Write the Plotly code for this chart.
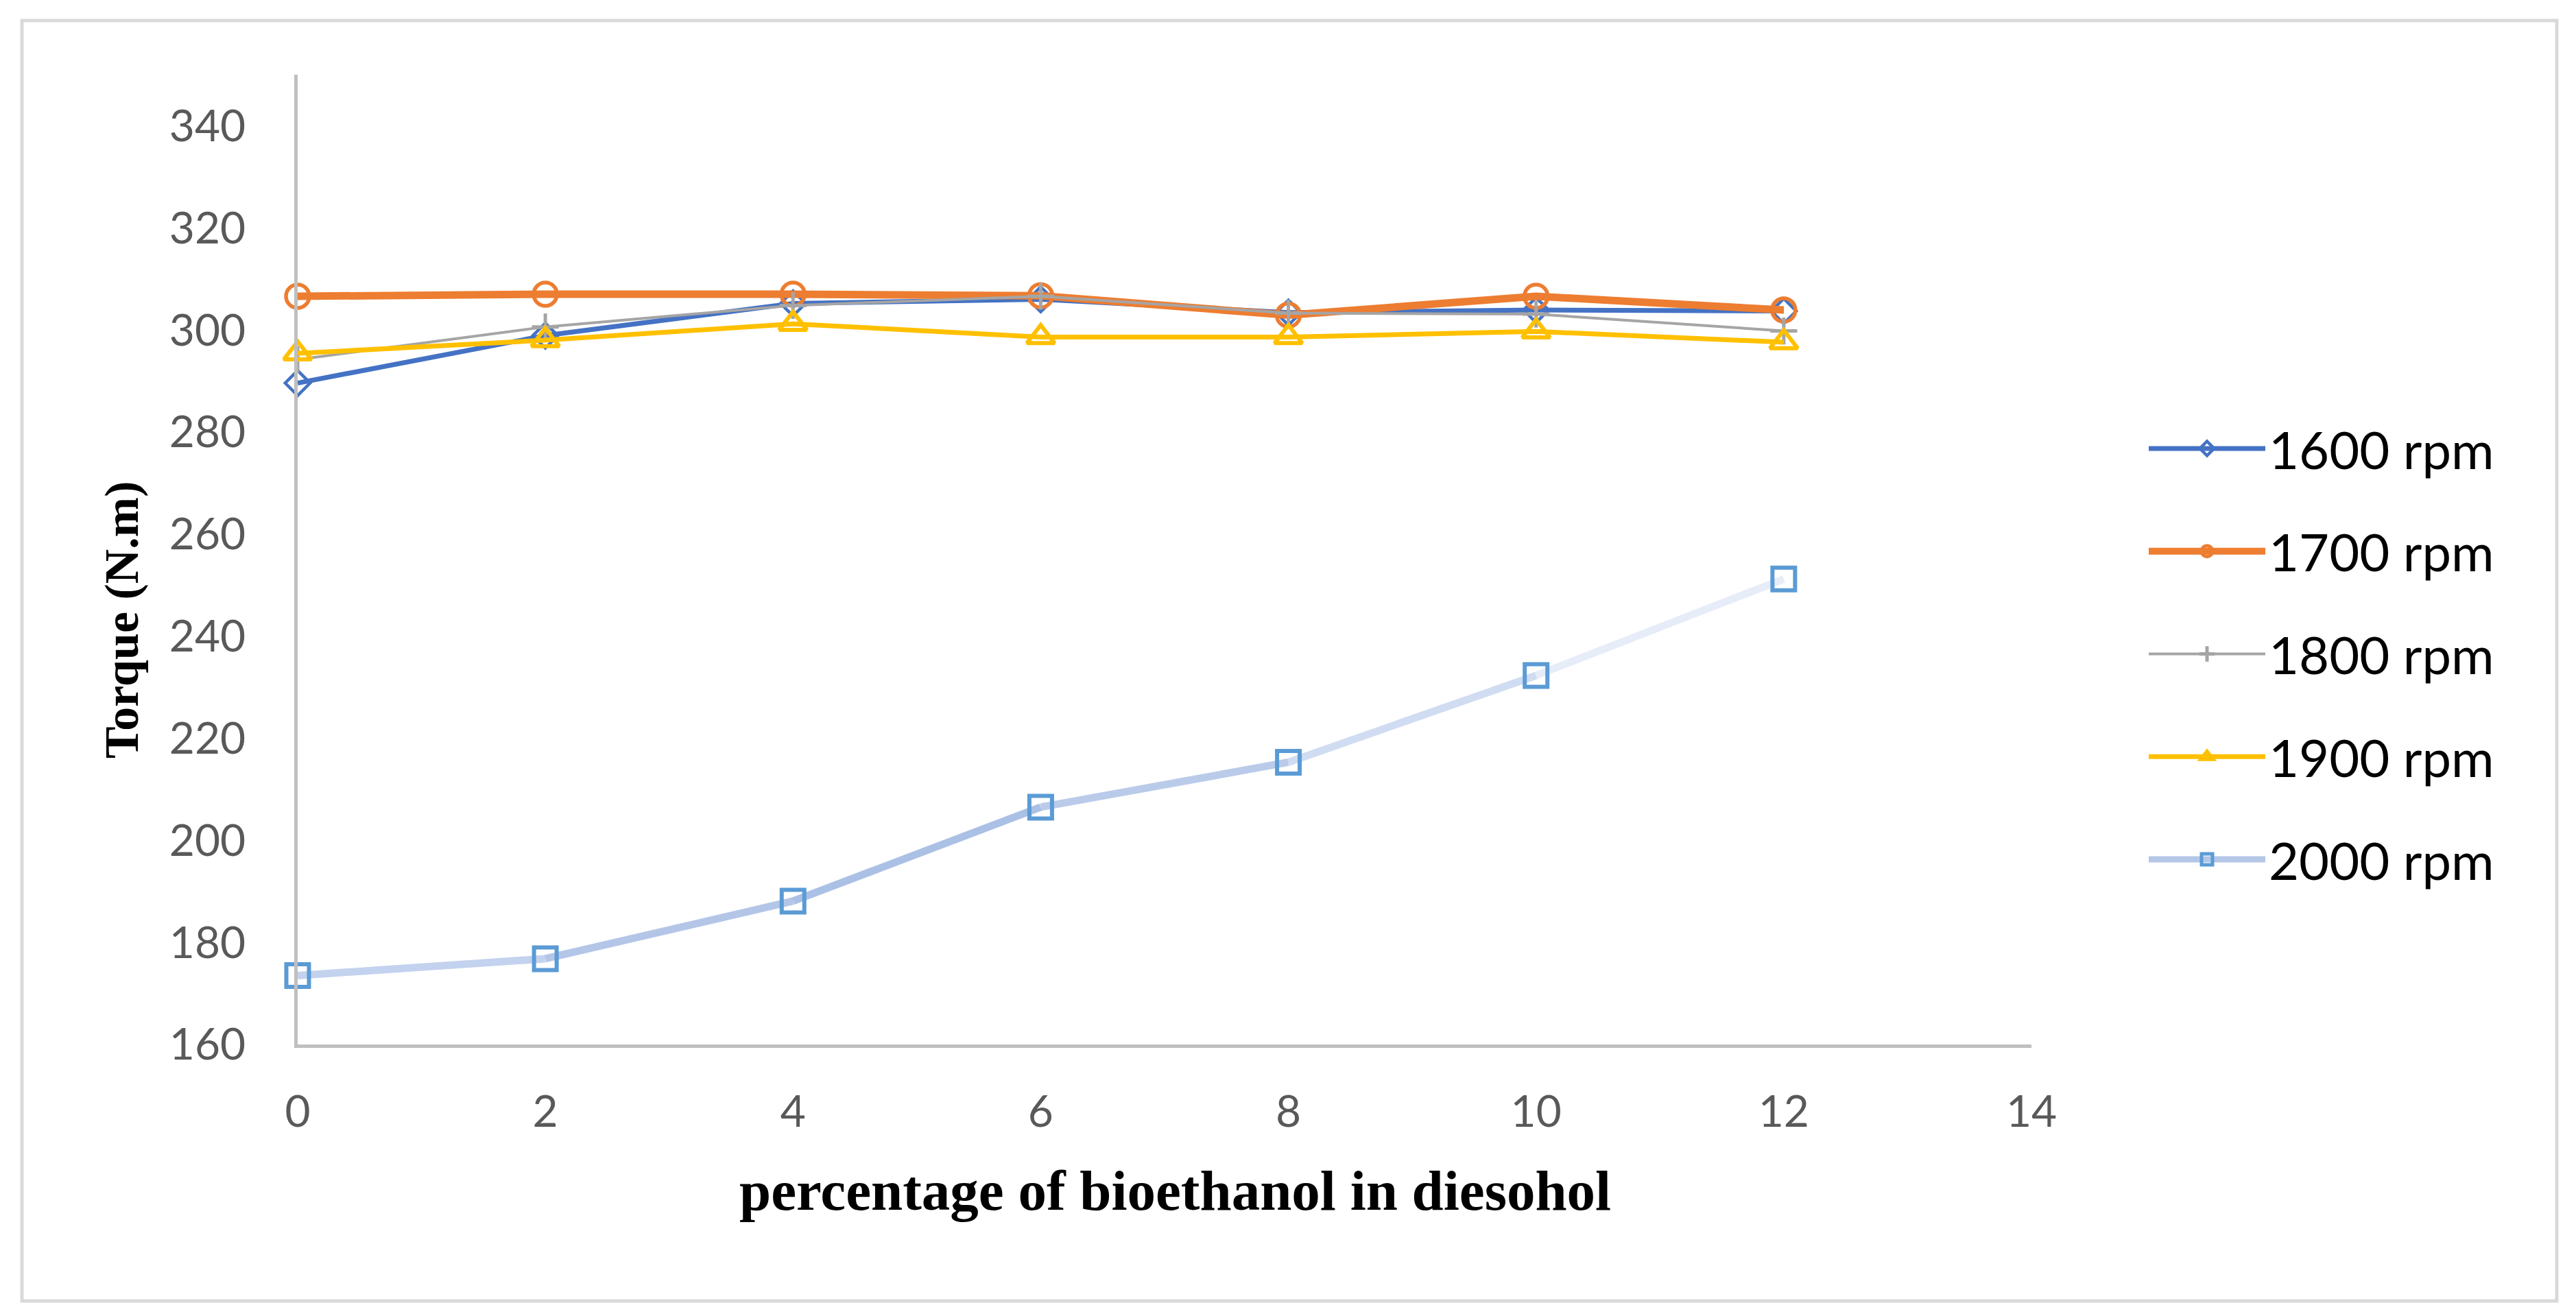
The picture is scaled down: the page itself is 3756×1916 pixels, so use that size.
import plotly.graph_objects as go

# ---- data ----
bioethanol_pct = [0, 2, 4, 6, 8, 10, 12]
torque_1600 = [289.6, 298.9, 305.2, 306.0, 303.4, 303.9, 303.7]
torque_1700 = [306.6, 307.0, 307.0, 306.7, 302.9, 306.6, 303.9]
torque_1800 = [294.2, 300.6, 304.8, 306.6, 303.3, 303.1, 299.8]
torque_1900 = [295.4, 298.0, 301.2, 298.6, 298.6, 299.7, 297.6]
torque_2000 = [173.5, 176.8, 188.1, 206.5, 215.3, 232.3, 251.2]
series_names = ["1600 rpm", "1700 rpm", "1800 rpm", "1900 rpm", "2000 rpm"]

W, H = 3756, 1916
L, R, T, B = 426, 3756 - 2954, 101, 1916 - 1515
PW, PH = W - L - R, H - T - B


def px_x(p):
    return (p - L) / PW


def px_y(p):
    return (H - B - p) / PH


fig = go.Figure()

styles = [
    dict(color="#4472C4", width=7, symbol="diamond-open", size=28, mlw=4.5),
    dict(color="#ED7D31", width=11, symbol="circle-open", size=34, mlw=5.5),
    dict(color="#A5A5A5", width=4, symbol="cross-thin-open", size=28, mlw=5),
    dict(color="#FFC000", width=7, symbol="triangle-up-open", size=35, mlw=6),
]
series = [torque_1600, torque_1700, torque_1800, torque_1900]

for i, (ys, st) in enumerate(zip(series, styles)):
    fig.add_trace(go.Scatter(
        x=bioethanol_pct, y=ys, name=series_names[i], mode="lines+markers",
        legendgroup=series_names[i], cliponaxis=False,
        line=dict(color=st["color"], width=st["width"]),
        marker=dict(symbol=st["symbol"], size=st["size"], color=st["color"],
                    line=dict(width=st["mlw"], color=st["color"])),
    ))

# 2000 rpm: gradient line drawn segment by segment
seg_colors = ["#C3D2EE", "#B3C6E8", "#ABC0E5", "#BACBEA", "#D0DCF1", "#E6EDF8"]
for k in range(len(bioethanol_pct) - 1):
    fig.add_trace(go.Scatter(
        x=bioethanol_pct[k:k + 2], y=torque_2000[k:k + 2], mode="lines",
        line=dict(color=seg_colors[k], width=11), showlegend=False,
        hoverinfo="skip", cliponaxis=False,
    ))
fig.add_trace(go.Scatter(
    x=bioethanol_pct, y=torque_2000, mode="markers", showlegend=False,
    name=series_names[4], cliponaxis=False,
    marker=dict(symbol="square-open", size=33, color="#5B9BD5",
                line=dict(width=6, color="#5B9BD5")),
))
fig.add_trace(go.Scatter(
    x=[None], y=[None], mode="lines+markers", name=series_names[4],
    legendgroup=series_names[4],
    line=dict(color="#B4C7E7", width=9),
    marker=dict(symbol="square-open", size=33, color="#5B9BD5",
                line=dict(width=6, color="#5B9BD5")),
))

axis_common = dict(
    showline=True, linecolor="#BFBFBF", linewidth=5, showgrid=False,
    zeroline=False, ticks="", tickfont=dict(family="Lato", size=64, color="#595959"),
)

fig.update_layout(
    width=W, height=H,
    margin=dict(l=L, r=R, t=T, b=B, autoexpand=False),
    paper_bgcolor="white", plot_bgcolor="white",
    xaxis=dict(range=[0, 14], tick0=0, dtick=2, ticklabelstandoff=38, **axis_common),
    yaxis=dict(range=[160, 350], tick0=160, dtick=20, ticklabelstandoff=58, **axis_common),
    showlegend=True,
    legend=dict(
        x=px_x(3120), xanchor="left", y=px_y(590), yanchor="top",
        font=dict(family="Lato", size=76, color="black"),
        traceorder="grouped", tracegroupgap=48, itemwidth=170,
        bgcolor="rgba(0,0,0,0)",
    ),
    annotations=[
        dict(text="<b>percentage of bioethanol in diesohol</b>", xref="paper", yref="paper",
             x=px_x(1705), y=px_y(1728), xanchor="center", yanchor="middle", showarrow=False,
             font=dict(family="Liberation Serif", size=83, color="black")),
        dict(text="<b>Torque (N.m)</b>", xref="paper", yref="paper", textangle=-90,
             x=px_x(170), y=px_y(896), xanchor="center", yanchor="middle", showarrow=False,
             font=dict(family="Liberation Serif", size=70, color="black")),
    ],
    shapes=[
        dict(type="rect", xref="paper", yref="paper",
             x0=px_x(24), x1=px_x(3720), y0=px_y(1889), y1=px_y(22),
             line=dict(color="#D9D9D9", width=5), fillcolor="rgba(0,0,0,0)", layer="below"),
    ],
)

fig.write_html("out.html")
